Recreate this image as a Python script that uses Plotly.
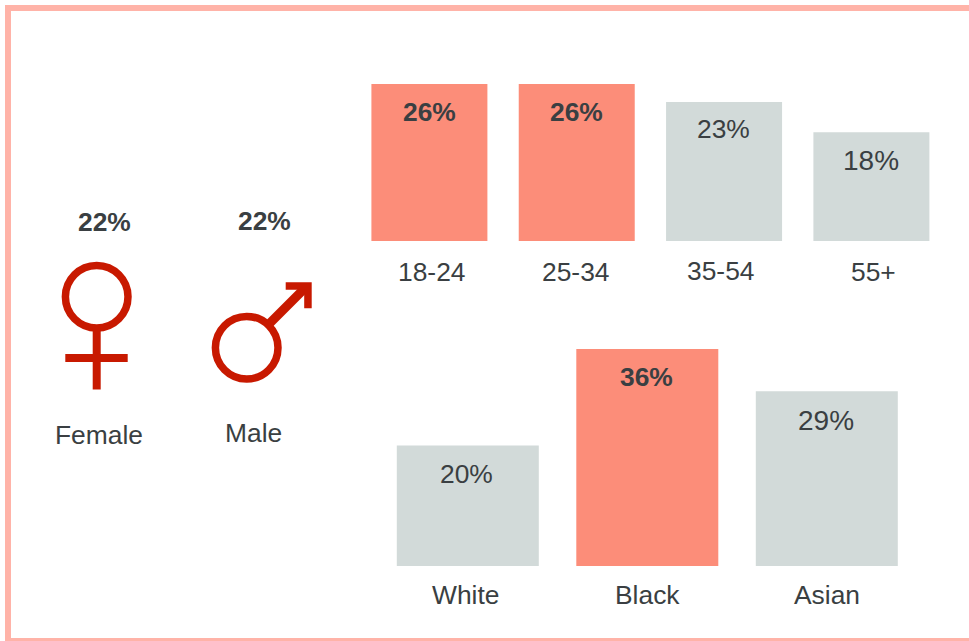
import plotly.graph_objects as go

# Data
age_groups = ["18-24", "25-34", "35-54", "55+"]
age_values = [26, 26, 23, 18]
race_groups = ["White", "Black", "Asian"]
race_values = [20, 36, 29]
gender_groups = ["Female", "Male"]
gender_values = [22, 22]

# Styling
W, H = 969, 641
FONT = "Liberation Sans, Arial, sans-serif"
TEXT = "#3a3f42"
HILITE = "#fc8d79"
MUTED = "#d2dad9"
RED = "#c81900"
BORDER = "#ffb3a8"
SIZE = 26.4

age_highlight = [True, True, False, False]
race_highlight = [False, True, False]

fig = go.Figure()


def px_domain(a, b, total):
    return [a / total, b / total]


def colours(flags):
    return [HILITE if f else MUTED for f in flags]


fig.add_bar(x=age_groups, y=age_values, marker=dict(color=colours(age_highlight), line_width=0),
            xaxis="x", yaxis="y", hoverinfo="skip", showlegend=False,
            width=116 / 147.33)
fig.add_bar(x=race_groups, y=race_values, marker=dict(color=colours(race_highlight), line_width=0),
            xaxis="x2", yaxis="y2", hoverinfo="skip", showlegend=False,
            width=142 / 179.5)

hidden = dict(visible=False, fixedrange=True)
age_left = 429.4 - 147.33 / 2
race_left = 467.8 - 179.5 / 2
fig.update_layout(
    width=W, height=H, margin=dict(l=0, r=0, t=0, b=0), autosize=False,
    paper_bgcolor="white", plot_bgcolor="rgba(0,0,0,0)", showlegend=False,
    font=dict(family=FONT, size=SIZE, color=TEXT),
    xaxis=dict(hidden, domain=px_domain(age_left, age_left + 147.33 * 4, W), range=[-0.5, 3.5], type="category"),
    yaxis=dict(hidden, domain=px_domain(H - 241, H - 60, H), range=[0, 181 / 6.04]),
    xaxis2=dict(hidden, domain=px_domain(race_left, race_left + 179.5 * 3, W), range=[-0.5, 2.5], type="category"),
    yaxis2=dict(hidden, domain=px_domain(H - 566, H - 325, H), range=[0, 241 / 6.03]),
    xaxis3=dict(hidden, domain=[0, 1], range=[0, W], anchor="y3"),
    yaxis3=dict(hidden, domain=[0, 1], range=[H, 0], anchor="x3"),
)


def value_text(v, bold):
    return f"<b>{v}%</b>" if bold else f"{v}%"


def note(text, x, y, xref="x3", yref="y3", xshift=0, yshift=0, size=SIZE):
    fig.add_annotation(text=text, x=x, y=y, xref=xref, yref=yref, xshift=xshift, yshift=yshift,
                       showarrow=False, xanchor="center", yanchor="middle",
                       font=dict(family=FONT, size=size, color=TEXT))


# Age labels
age_label_shift = [3, -1, -3, 2]
age_label_y = [272, 272, 271, 272]
age_value_shift = [0, 0, -1, 0]
age_value_drop = [28, 28, 27, 28]
age_value_size = [SIZE, SIZE, SIZE, 28]
for i, (g, v) in enumerate(zip(age_groups, age_values)):
    note(value_text(v, age_highlight[i]), g, v, "x", "y", age_value_shift[i], -age_value_drop[i],
         size=age_value_size[i])
    note(g, g, age_label_y[i], "x", "y3", age_label_shift[i])

# Race labels
race_label_shift = [-2, 0, 0]
race_value_shift = [-1, -1, -1]
race_value_drop = [29, 28, 29]
race_value_size = [SIZE, SIZE, 28]
for i, (g, v) in enumerate(zip(race_groups, race_values)):
    note(value_text(v, race_highlight[i]), g, v, "x2", "y2", race_value_shift[i], -race_value_drop[i],
         size=race_value_size[i])
    note(g, g, 595, "x2", "y3", race_label_shift[i])

# Gender labels
gender_value_xy = [(104.5, 222), (264, 221)]
gender_label_xy = [(99, 435), (253, 433)]
for g, v, vxy, lxy in zip(gender_groups, gender_values, gender_value_xy, gender_label_xy):
    note(value_text(v, True), *vxy)
    note(g, *lxy)


# Symbols and frame, drawn on the full-page pixel axis
def shape(**kw):
    fig.add_shape(xref="x3", yref="y3", layer="above", **kw)


ring = dict(color=RED, width=7.5)
bar = dict(color=RED, width=8)
R = 31.3
shape(type="circle", x0=96.7 - R, x1=96.7 + R, y0=296.7 - R, y1=296.7 + R, line=ring)
shape(type="line", x0=96.7, x1=96.7, y0=328, y1=389.5, line=bar)
shape(type="line", x0=65.3, x1=127.7, y0=358, y1=358, line=bar)

shape(type="circle", x0=246.7 - R, x1=246.7 + R, y0=347.7 - R, y1=347.7 + R, line=ring)
shape(type="line", x0=268, x1=306, y0=325, y1=287, line=dict(color=RED, width=9))
shape(type="path", path="M 285.7 282.3 L 311.7 282.3 L 311.7 308.3 L 304.2 308.3 L 304.2 289.8 L 285.7 289.8 Z",
      fillcolor=RED, line_width=0)

shape(type="rect", x0=5, x1=11, y0=5, y1=641, fillcolor=BORDER, line_width=0)
shape(type="rect", x0=5, x1=W, y0=5, y1=11, fillcolor=BORDER, line_width=0)
shape(type="rect", x0=5, x1=W, y0=638, y1=641, fillcolor=BORDER, line_width=0)

fig.write_html("out.html", config=dict(displayModeBar=False, responsive=False),
               post_script="document.body.style.margin='0';document.body.style.overflow='hidden';")
